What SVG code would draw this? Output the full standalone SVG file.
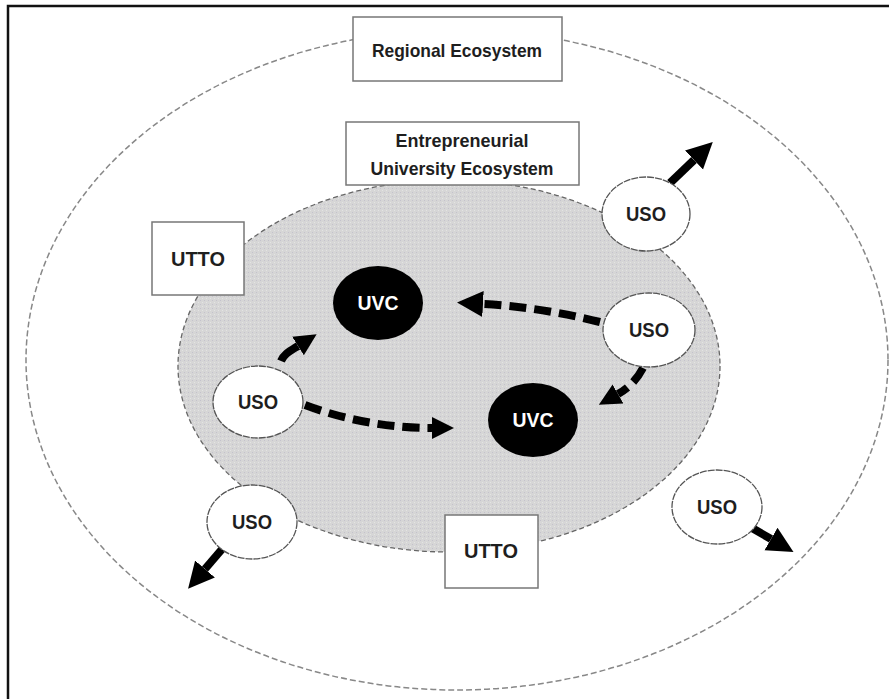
<svg xmlns="http://www.w3.org/2000/svg" width="889" height="699" viewBox="0 0 889 699">
<defs>
<style>
.lbl{font-family:"Liberation Sans",Arial,sans-serif;font-weight:bold;fill:#1e1e1e;text-anchor:middle}
.box{fill:#fff;stroke:#777;stroke-width:1.5}
.uso{fill:#fff;stroke:#555;stroke-width:1.3;stroke-dasharray:7 1}
.uvc{fill:#000}
.solid{fill:none;stroke:#000;stroke-width:8}
.dash{fill:none;stroke:#000;stroke-width:8;stroke-dasharray:17 8}
</style>
<pattern id="stip" width="4" height="4" patternUnits="userSpaceOnUse">
<rect width="4" height="4" fill="#d6d6d6"/>
<rect x="0" y="0" width="1" height="1" fill="#c4c2cc"/>
<rect x="2" y="2" width="1" height="1" fill="#e4e4e4"/>
</pattern>
<marker id="ah" viewBox="0 0 10 10" refX="0" refY="5" markerUnits="userSpaceOnUse" markerWidth="26" markerHeight="28" orient="auto">
<path d="M0,0 L10,5 L0,10 z" fill="#000"/>
</marker>
<marker id="ahs" viewBox="0 0 10 10" refX="0" refY="5" markerUnits="userSpaceOnUse" markerWidth="22" markerHeight="25" orient="auto">
<path d="M0,0 L10,5 L0,10 z" fill="#000"/>
</marker>
</defs>
<rect width="889" height="699" fill="#fff"/>
<path d="M8,699 L8,6 L889,6" fill="none" stroke="#111" stroke-width="2.5"/>

<g id="regional-ecosystem">
<ellipse cx="457" cy="360" rx="431" ry="330" fill="none" stroke="#888" stroke-width="1.5" stroke-dasharray="6 3"/>
<rect class="box" x="353" y="17" width="209" height="64"/>
<text class="lbl" x="457" y="57" font-size="19" textLength="170" lengthAdjust="spacingAndGlyphs">Regional Ecosystem</text>
</g>

<g id="university-ecosystem">
<ellipse cx="449" cy="366" rx="271" ry="186" fill="url(#stip)" stroke="#666" stroke-width="1.3" stroke-dasharray="5 3"/>
<rect class="box" x="346" y="122" width="233" height="63"/>
<text class="lbl" x="462" y="147" font-size="18.5" textLength="133" lengthAdjust="spacingAndGlyphs">Entrepreneurial</text>
<text class="lbl" x="462" y="175" font-size="18.5" textLength="183" lengthAdjust="spacingAndGlyphs">University Ecosystem</text>
</g>

<g id="connectors">
<path class="solid" d="M670,183 L694,160" marker-end="url(#ah)"/>
<path class="solid" d="M223,548 L205,569" marker-end="url(#ah)"/>
<path class="solid" d="M752,528 L771,539" marker-end="url(#ah)"/>
<path class="solid" d="M281,361 C284,354 290,351 298,346" stroke-width="7" marker-end="url(#ahs)"/>
<path class="dash" d="M305,405 C350,422 395,428 432,428" marker-end="url(#ahs)"/>
<path class="dash" d="M600,322 C560,312 520,306 483,304" marker-end="url(#ah)"/>
<path class="dash" d="M643,368 Q634,385 618,394" stroke-dasharray="20 6" marker-end="url(#ahs)"/>
</g>

<g id="utto-1">
<rect class="box" x="152" y="222" width="92" height="73"/>
<text class="lbl" x="198" y="266" font-size="20.5" textLength="54" lengthAdjust="spacingAndGlyphs">UTTO</text>
</g>
<g id="utto-2">
<rect class="box" x="445" y="515" width="93" height="73"/>
<text class="lbl" x="491" y="558" font-size="20.5" textLength="54" lengthAdjust="spacingAndGlyphs">UTTO</text>
</g>

<g id="uvc-1">
<ellipse class="uvc" cx="378" cy="303" rx="45" ry="37"/>
<text class="lbl" x="378" y="310" font-size="20" textLength="41" lengthAdjust="spacingAndGlyphs" style="fill:#fff">UVC</text>
</g>
<g id="uvc-2">
<ellipse class="uvc" cx="533" cy="420" rx="45" ry="37"/>
<text class="lbl" x="533" y="427" font-size="20" textLength="41" lengthAdjust="spacingAndGlyphs" style="fill:#fff">UVC</text>
</g>

<g id="uso-left">
<ellipse class="uso" cx="258" cy="402" rx="45" ry="36"/>
<text class="lbl" x="258" y="409" font-size="20" textLength="40" lengthAdjust="spacingAndGlyphs">USO</text>
</g>
<g id="uso-top-right">
<ellipse class="uso" cx="646" cy="214" rx="44" ry="37"/>
<text class="lbl" x="646" y="221" font-size="20" textLength="40" lengthAdjust="spacingAndGlyphs">USO</text>
</g>
<g id="uso-mid-right">
<ellipse class="uso" cx="649" cy="330" rx="46" ry="37"/>
<text class="lbl" x="649" y="337" font-size="20" textLength="40" lengthAdjust="spacingAndGlyphs">USO</text>
</g>
<g id="uso-bottom-left">
<ellipse class="uso" cx="252" cy="522" rx="45" ry="37"/>
<text class="lbl" x="252" y="529" font-size="20" textLength="40" lengthAdjust="spacingAndGlyphs">USO</text>
</g>
<g id="uso-bottom-right">
<ellipse class="uso" cx="717" cy="507" rx="45" ry="37"/>
<text class="lbl" x="717" y="514" font-size="20" textLength="40" lengthAdjust="spacingAndGlyphs">USO</text>
</g>
</svg>
